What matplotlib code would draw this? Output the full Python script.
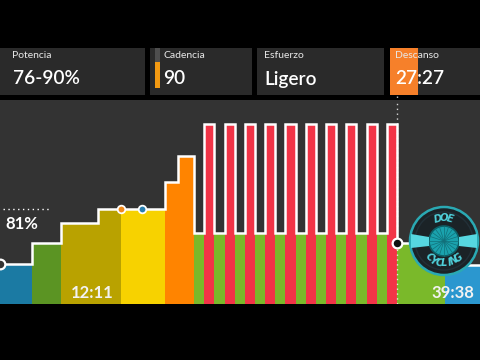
import numpy as np
import matplotlib
matplotlib.use("Agg")
import matplotlib.pyplot as plt
from matplotlib.patches import Rectangle, Circle, Polygon

plt.rcParams['font.family'] = ['Lato', 'DejaVu Sans']

# ---------------- data ----------------
seg_minutes = [1.58, 1.43, 1.82, 1.13, 2.17, 0.64, 0.79] + [0.5] * 20 + [2.36, 2.0]
seg_power = [34, 52, 69, 81, 81, 104, 126] + [60.5, 153.5] * 10 + [52, 33]
seg_colors = ['#1b7aa3', '#5b9423', '#b9a200', '#b9a200', '#f7d200', '#ff8400', '#ff8400'] \
    + ['#7ab92a', '#f23447'] * 10 + ['#7ab92a', '#2b97cf']
current_index = 27          # segments completed so far
event_times = [5.96, 7.0]
event_colors = ['#f08a1c', '#2a7fb0']
target_pct = 81
panel_labels = ['Potencia', 'Cadencia', 'Esfuerzo', 'Descanso']
panel_values = ['76-90%', '90', 'Ligero', '27:27']
elapsed_label = '12:11'
remaining_label = '39:38'

W, H = 480, 360
fig = plt.figure(figsize=(4.8, 3.6), dpi=100, facecolor='black')

# ---------------- chart ----------------
ax = fig.add_axes([0, 56 / H, 1, 204 / H])
ax.set_facecolor('#333333')
starts = np.concatenate([[0], np.cumsum(seg_minutes)[:-1]])
ax.bar(starts, seg_power, width=seg_minutes, align='edge', color=seg_colors,
       linewidth=0, zorder=2)
xs = list(starts) + [starts[-1] + seg_minutes[-1]]
ys = list(seg_power) + [seg_power[-1]]
ax.plot(xs, ys, drawstyle='steps-post', color='white', lw=1.8, zorder=4,
        solid_joinstyle='miter')
ax.set_xlim(0, W / 20.3)
ax.set_ylim(0, 174)
for s in ax.spines.values():
    s.set_visible(False)
ax.set_xticks([])
ax.set_yticks([])

now = starts[current_index]
ax.axvline(now, color='white', lw=1.0, ls=(0, (1, 2.5)), alpha=0.8, zorder=3)
ax.plot([now], [seg_power[current_index]], 'o', ms=7, mfc='#111111', mec='white',
        mew=1.6, zorder=6)
ax.plot([0], [seg_power[0]], 'o', ms=7, mfc='#333333', mec='white', mew=1.6,
        zorder=6, clip_on=True)
for t, c in zip(event_times, event_colors):
    ax.plot([t], [target_pct], 'o', ms=5.5, mfc=c, mec='white', mew=1.3, zorder=6)
ax.plot([0.15, 2.5], [target_pct, target_pct], color='white', lw=1.0,
        ls=(0, (1, 2.5)), zorder=5)
ax.text(0.27, target_pct - 16.8, f'{target_pct}%', color='white', fontsize=12,
        fontweight='bold', ha='left', va='baseline', zorder=7)

# ---------------- overlay (pixel coords) ----------------
ov = fig.add_axes([0, 0, 1, 1], facecolor='none')
ov.set_xlim(0, W)
ov.set_ylim(H, 0)
ov.axis('off')

panels = [(0, 145), (150, 252), (257, 384), (390, 480)]
for (x0, x1) in panels:
    ov.add_patch(Rectangle((x0, 48), x1 - x0, 47, color='#2a2a2a', lw=0, zorder=1))
# cadence indicator
ov.add_patch(Rectangle((155, 48), 5, 14, color='#4e4e4e', lw=0, zorder=2))
ov.add_patch(Rectangle((155, 62), 5, 26, color='#f39a12', lw=0, zorder=2))
# rest indicator
ov.add_patch(Rectangle((390, 48), 28, 47, color='#f6802a', lw=0, zorder=2))

label_x = [12, 163, 264, 395]
for lx, lab, val in zip(label_x, panel_labels, panel_values):
    ov.text(lx, 58.3, lab, color='#e8e8e8', fontsize=7.5, ha='left', va='baseline', zorder=5)
    ov.text(lx + 0.5, 84.5, val, color='white', fontsize=13.7, fontweight='semibold',
            ha='left', va='baseline', zorder=5)
# dotted marker into gap
ov.plot([397, 397], [96, 100], color='white', lw=1.0, ls=(0, (1, 2.5)), alpha=0.8)

ov.text(92, 298.3, elapsed_label, color='#f2f2f2', fontsize=12, fontweight='bold',
        ha='center', va='baseline', zorder=5)
ov.text(453, 298.3, remaining_label, color='#f2f2f2', fontsize=12, fontweight='bold',
        ha='center', va='baseline', zorder=8)

# ---------------- logo ----------------
cx, cy, R = 444, 241, 34
teal = '#4fd0da'
ov.add_patch(Circle((cx, cy), R, fc='#1b2327', ec='#2aa9b3', lw=1.8, zorder=6))
ov.add_patch(Circle((cx, cy), R - 5, fc='none', ec='#223038', lw=1.0, zorder=6))
ov.add_patch(Circle((cx, cy), 15, fc='#1aa2ad', ec='#0d5f66', lw=1.2, zorder=7))
for a in np.linspace(0, np.pi, 10, endpoint=False):
    ov.plot([cx - 15 * np.cos(a), cx + 15 * np.cos(a)],
            [cy - 15 * np.sin(a), cy + 15 * np.sin(a)], color='#11707a', lw=0.5, zorder=7)
ov.add_patch(Polygon([(411, 234), (429, 237), (429, 246), (411, 248)],
                     closed=True, fc='#56d7e0', lw=0, zorder=7))
ov.add_patch(Polygon([(477, 234), (459, 237), (459, 246), (477, 248)],
                     closed=True, fc='#56d7e0', lw=0, zorder=7))

def arc_text(text, radius, center_deg, step_deg, top=True):
    n = len(text)
    for i, ch in enumerate(text):
        if top:
            th = center_deg + (n - 1) / 2 * step_deg - i * step_deg
            rot = th - 90
        else:
            th = center_deg - (n - 1) / 2 * step_deg + i * step_deg
            rot = th - 270
        t = np.deg2rad(th)
        ov.text(cx + radius * np.cos(t), cy - radius * np.sin(t), ch, rotation=rot,
                rotation_mode='anchor', ha='center', va='center', color=teal,
                fontsize=8, fontweight='bold', fontstyle='italic',
                family='DejaVu Sans', fontstretch='condensed', zorder=8)

arc_text('DOE', 23, 90, 14, top=True)
arc_text('CYCLING', 22.5, 270, 14, top=False)

fig.savefig('out.png', dpi=100, facecolor='black')
